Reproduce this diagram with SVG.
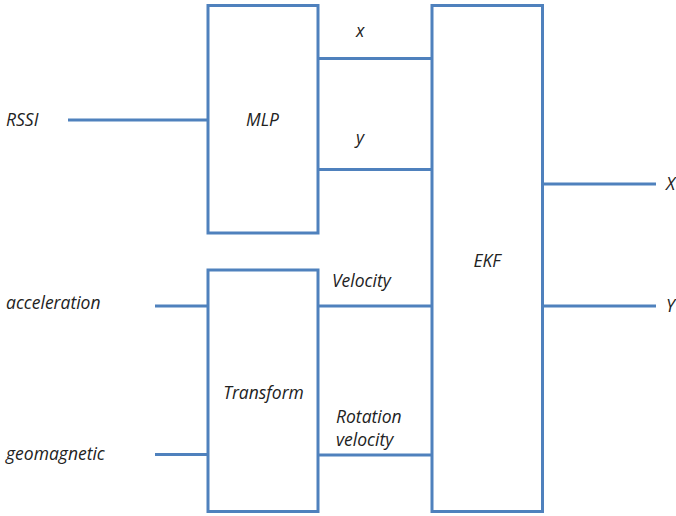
<svg xmlns="http://www.w3.org/2000/svg" width="676" height="516" viewBox="0 0 676 516">
<style>
.box{fill:#fff;stroke:#4F81BD;stroke-width:3}
.ln{stroke:#4F81BD;stroke-width:3;fill:none}
text{font-family:"Open Sans","Liberation Sans",sans-serif;font-style:italic;font-size:17.5px;fill:#222}
.c{text-anchor:middle}
</style>
<rect width="676" height="516" fill="#fff"/>
<g id="connectors">
<line class="ln" x1="68" y1="120" x2="208" y2="120"/>
<line class="ln" x1="318" y1="58.5" x2="432" y2="58.5"/>
<line class="ln" x1="318" y1="169.5" x2="432" y2="169.5"/>
<line class="ln" x1="155" y1="306" x2="208" y2="306"/>
<line class="ln" x1="155" y1="454.5" x2="208" y2="454.5"/>
<line class="ln" x1="318" y1="306" x2="432" y2="306"/>
<line class="ln" x1="318" y1="455" x2="432" y2="455"/>
<line class="ln" x1="542" y1="184" x2="656" y2="184"/>
<line class="ln" x1="542" y1="306" x2="656" y2="306"/>
</g>
<g id="mlp">
<rect class="box" x="208" y="5.5" width="110" height="227.5"/>
<text class="c" x="262.5" y="126">MLP</text>
</g>
<g id="transform">
<rect class="box" x="208" y="270" width="110" height="241.5"/>
<text class="c" x="263.5" y="399">Transform</text>
</g>
<g id="ekf">
<rect class="box" x="432" y="5.5" width="110.5" height="506"/>
<text class="c" x="487" y="267">EKF</text>
</g>
<g id="labels">
<text x="6" y="126">RSSI</text>
<text x="6" y="309">acceleration</text>
<text x="6" y="460">geomagnetic</text>
<text x="356" y="37">x</text>
<text x="356" y="144">y</text>
<text x="332" y="287">Velocity</text>
<text x="336" y="423">Rotation</text>
<text x="336" y="446">velocity</text>
<text x="666" y="190">X</text>
<text x="666" y="312">Y</text>
</g>
</svg>
